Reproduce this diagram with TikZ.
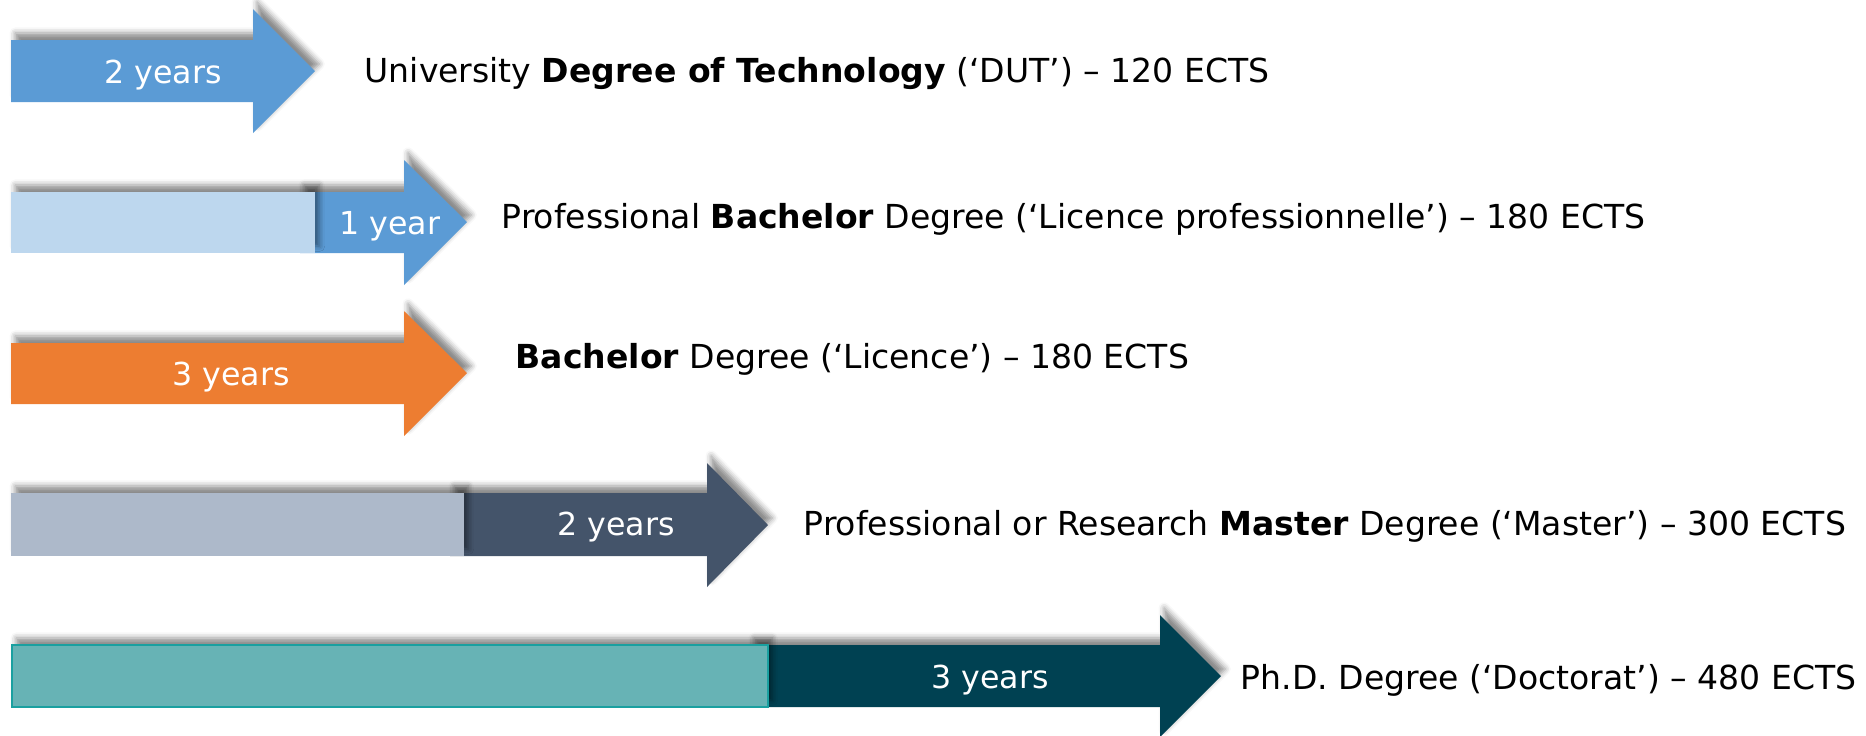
\documentclass[tikz,border=0pt]{standalone}
\usepackage{fontspec}
\setmainfont{DejaVu Sans}
\usetikzlibrary{positioning,shadows.blur}

\definecolor{bluearr}{HTML}{5B9BD5}
\definecolor{lightblue}{HTML}{BDD7EE}
\definecolor{orangearr}{HTML}{ED7D31}
\definecolor{slatearr}{HTML}{44546A}
\definecolor{lightslate}{HTML}{ADB9CA}
\definecolor{tealarr}{HTML}{004152}
\definecolor{lightteal}{HTML}{67B3B5}
\definecolor{tealline}{HTML}{1AA0A0}

\tikzset{
  years/.style={text=white, inner sep=0pt, font=\fontsize{9}{11}\selectfont},
  degree/.style={anchor=west, inner sep=0pt, font=\fontsize{9.4}{11}\selectfont},
  boxshadow/.style={blur shadow={shadow xshift=1.2pt, shadow yshift=2pt,
      shadow blur radius=1.6pt, shadow opacity=45}}
}

\begin{document}
\begin{tikzpicture}[x=0.01cm, y=-0.01cm]
        \useasboundingbox (0,0) rectangle (1866,735);

        % DUT
        \fill [bluearr, boxshadow] (11,40) -- (253,40) -- (253,9) -- (315,71) -- (253,133) -- (253,102) -- (11,102) -- cycle;
        \node [years] (dut years) at (163,75) {2 years};
        \node [degree] (dut) at (364,73) {University \textbf{Degree of Technology} (‘DUT’) – 120 ECTS};

        % Licence pro
        \fill [bluearr, boxshadow] (300,192) -- (404,192) -- (404,160) -- (467,222) -- (404,285) -- (404,253) -- (300,253) -- cycle;
        \fill [lightblue, boxshadow] (11,192) rectangle (315,253);
        \node [years] (lpro years) at (390,226) {1 year};
        \node [degree] (lpro) at (501,219) {Professional \textbf{Bachelor} Degree (‘Licence professionnelle’) – 180 ECTS};

        % Licence
        \fill [orangearr, boxshadow] (11,343) -- (404,343) -- (404,311) -- (467,373) -- (404,436) -- (404,404) -- (11,404) -- cycle;
        \node [years] (lic years) at (231,377) {3 years};
        \node [degree] (lic) at (515,359) {\textbf{Bachelor} Degree (‘Licence’) – 180 ECTS};

        % Master
        \fill [slatearr, boxshadow] (450,493) -- (707,493) -- (707,463) -- (768,525) -- (707,587) -- (707,556) -- (450,556) -- cycle;
        \fill [lightslate, boxshadow] (11,493) rectangle (464,556);
        \node [years] (mas years) at (616,527) {2 years};
        \node [degree] (mas) at (803,526) {Professional or Research \textbf{Master} Degree (‘Master’) – 300 ECTS};

        % Doctorat
        \fill [tealarr, boxshadow] (750,645) -- (1160,645) -- (1160,615) -- (1221,676) -- (1160,737) -- (1160,707) -- (750,707) -- cycle;
        \draw [tealline, fill=lightteal, line width=0.6pt, boxshadow] (12,645) rectangle (768,707);
        \node [years] (doc years) at (990,680) {3 years};
        \node [degree] (doc) at (1240,680) {Ph.D. Degree (‘Doctorat’) – 480 ECTS};

    \end{tikzpicture}
\end{document}
